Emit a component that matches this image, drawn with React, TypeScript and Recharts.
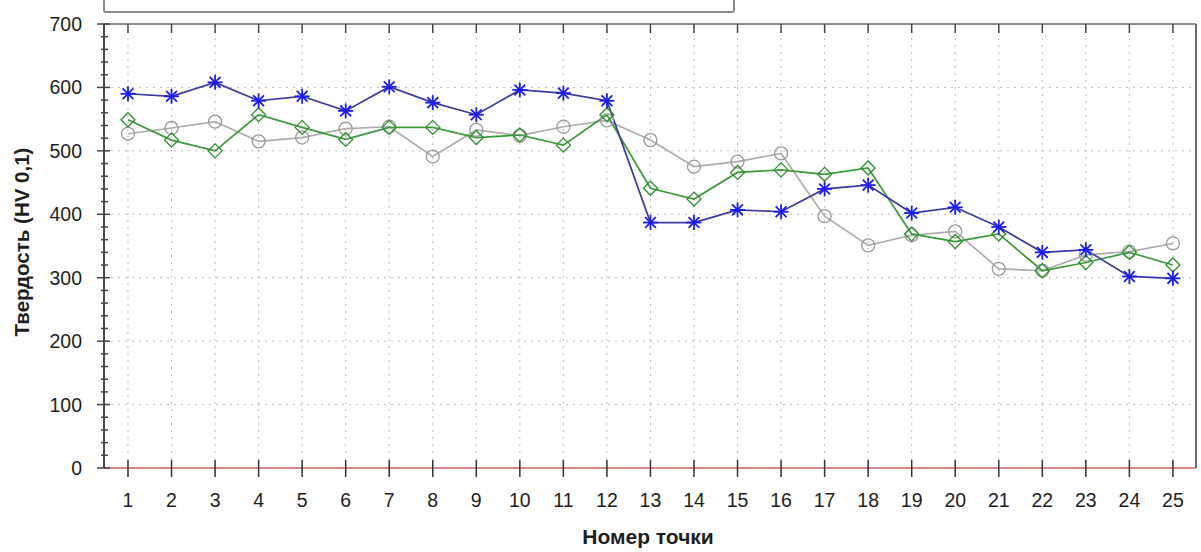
import React from 'react';
import { LineChart, Line, XAxis, YAxis, CartesianGrid } from 'recharts';

// Point numbers along the sample
const points = [1, 2, 3, 4, 5, 6, 7, 8, 9, 10, 11, 12, 13, 14, 15, 16, 17, 18, 19, 20, 21, 22, 23, 24, 25];

// Hardness series (HV 0,1)
const grayValues = [527, 536, 546, 515, 521, 535, 538, 491, 533, 524, 538, 548, 517, 475, 483, 496, 397, 351, 367, 373, 314, 311, 336, 341, 354];
const greenValues = [549, 517, 500, 557, 537, 518, 537, 537, 521, 525, 509, 557, 441, 424, 466, 470, 463, 473, 369, 357, 369, 311, 324, 340, 320];
const blueValues = [590, 586, 608, 579, 586, 563, 601, 576, 557, 596, 591, 579, 387, 387, 407, 404, 440, 446, 402, 411, 380, 340, 344, 302, 299];

// Y axis ticks: labelled majors every 100, minors every 20
const majorTicks = [0, 100, 200, 300, 400, 500, 600, 700];
const allYTicks = Array.from({ length: 36 }, (_, i) => i * 20);

const data = points.map((p, i) => ({
  point: p,
  gray: grayValues[i],
  green: greenValues[i],
  blue: blueValues[i],
}));

const FONT = 'Arial, "Liberation Sans", sans-serif';

const LeftTick = (props: any) => {
  const { x, y, payload } = props;
  const major = payload.value % 100 === 0;
  return (
    <g>
      <line x1={major ? x - 7 : x - 3} x2={major ? x + 6 : x + 4} y1={y} y2={y} stroke="#444" strokeWidth={1.5} />
      {major && (
        <text x={x - 22} y={y} dy="0.36em" textAnchor="end" fontSize={19.5} fontFamily={FONT} fill="#1e1e1e">
          {payload.value}
        </text>
      )}
    </g>
  );
};

const RightTick = (props: any) => {
  const { x, y, payload } = props;
  const major = payload.value % 100 === 0;
  return <line x1={x - (major ? 9 : 5)} x2={x} y1={y} y2={y} stroke="#555" strokeWidth={1.5} />;
};

const BottomTick = (props: any) => {
  const { x, y, payload } = props;
  return (
    <g>
      <line x1={x} x2={x} y1={y - 8} y2={y + 9} stroke="#333" strokeWidth={1.5} />
      <text x={x} y={y + 32} dy="0.36em" textAnchor="middle" fontSize={19.5} fontFamily={FONT} fill="#1e1e1e">
        {payload.value}
      </text>
    </g>
  );
};

const TopTick = (props: any) => {
  const { x, y } = props;
  return <line x1={x} x2={x} y1={y} y2={y + 9} stroke="#444" strokeWidth={1.5} />;
};

const AsteriskDot = (props: any) => {
  const { cx, cy } = props;
  if (cx == null || cy == null) return null;
  const r = 7.5;
  const d = r * 0.72;
  return (
    <g stroke="#1c1cf0" strokeWidth={1.8}>
      <line x1={cx - r} x2={cx + r} y1={cy} y2={cy} />
      <line x1={cx} x2={cx} y1={cy - r} y2={cy + r} />
      <line x1={cx - d} x2={cx + d} y1={cy - d} y2={cy + d} />
      <line x1={cx - d} x2={cx + d} y1={cy + d} y2={cy - d} />
    </g>
  );
};

const DiamondDot = (props: any) => {
  const { cx, cy } = props;
  if (cx == null || cy == null) return null;
  const r = 7;
  return (
    <path
      d={`M${cx},${cy - r}L${cx + r},${cy}L${cx},${cy + r}L${cx - r},${cy}Z`}
      fill="none"
      stroke="#2f8f2f"
      strokeWidth={1.3}
    />
  );
};

const CircleDot = (props: any) => {
  const { cx, cy } = props;
  if (cx == null || cy == null) return null;
  return <circle cx={cx} cy={cy} r={6.5} fill="none" stroke="#9a9a9a" strokeWidth={1.3} />;
};

export default function App() {
  return (
    <div style={{ position: 'absolute', left: 0, top: 0, width: 1201, height: 552, background: '#fff', overflow: 'hidden' }}>
      {/* partially visible legend frame */}
      <div
        style={{
          position: 'absolute',
          left: 103,
          top: -4,
          width: 628,
          height: 15,
          border: '2px solid #8a8a8a',
          borderTop: 'none',
          borderRadius: '0 0 3px 3px',
        }}
      />
      <LineChart
        width={1201}
        height={552}
        data={data}
        margin={{ top: 20, right: 0, bottom: 34, left: 20 }}
      >
        <CartesianGrid
          stroke="#bdbdbd"
          strokeDasharray="2 5"
          horizontalValues={majorTicks}
          verticalValues={points}
        />
        <XAxis
          dataKey="point"
          type="number"
          domain={[0.449, 25.53]}
          allowDataOverflow
          ticks={points}
          interval={0}
          height={50}
          tickSize={0}
          tickMargin={0}
          tickLine={false}
          axisLine={{ stroke: '#e08585', strokeWidth: 2 }}
          tick={BottomTick}
        />
        <XAxis
          xAxisId="top"
          orientation="top"
          dataKey="point"
          type="number"
          domain={[0.449, 25.53]}
          allowDataOverflow
          ticks={points}
          interval={0}
          height={4}
          tickSize={0}
          tickMargin={0}
          tickLine={false}
          axisLine={{ stroke: '#8e8e8e', strokeWidth: 2 }}
          tick={TopTick}
        />
        <YAxis
          type="number"
          domain={[0, 700]}
          ticks={allYTicks}
          interval={0}
          width={84}
          tickSize={0}
          tickMargin={0}
          tickLine={false}
          axisLine={{ stroke: '#4a4a4a', strokeWidth: 2 }}
          tick={LeftTick}
        />
        <YAxis
          yAxisId="right"
          orientation="right"
          type="number"
          domain={[0, 700]}
          ticks={allYTicks}
          interval={0}
          width={5}
          tickSize={0}
          tickMargin={0}
          tickLine={false}
          axisLine={{ stroke: '#6a6a6a', strokeWidth: 2 }}
          tick={RightTick}
        />
        <Line
          dataKey="gray"
          stroke="#adadad"
          strokeWidth={1.7}
          dot={CircleDot}
          activeDot={false}
          isAnimationActive={false}
        />
        <Line
          dataKey="green"
          stroke="#3a9a3a"
          strokeWidth={1.7}
          dot={DiamondDot}
          activeDot={false}
          isAnimationActive={false}
        />
        <Line
          dataKey="blue"
          stroke="#3a3aa0"
          strokeWidth={1.7}
          dot={AsteriskDot}
          activeDot={false}
          isAnimationActive={false}
        />
      </LineChart>
      <div
        style={{
          position: 'absolute',
          left: 22,
          top: 242,
          transform: 'translate(-50%, -50%) rotate(-90deg)',
          whiteSpace: 'nowrap',
          fontFamily: FONT,
          fontWeight: 'bold',
          fontSize: 20.5,
          color: '#1e1e1e',
        }}
      >
        Твердость (HV 0,1)
      </div>
      <div
        style={{
          position: 'absolute',
          left: 648,
          top: 537,
          transform: 'translate(-50%, -50%)',
          whiteSpace: 'nowrap',
          fontFamily: FONT,
          fontWeight: 'bold',
          fontSize: 21,
          color: '#1e1e1e',
        }}
      >
        Номер точки
      </div>
    </div>
  );
}
